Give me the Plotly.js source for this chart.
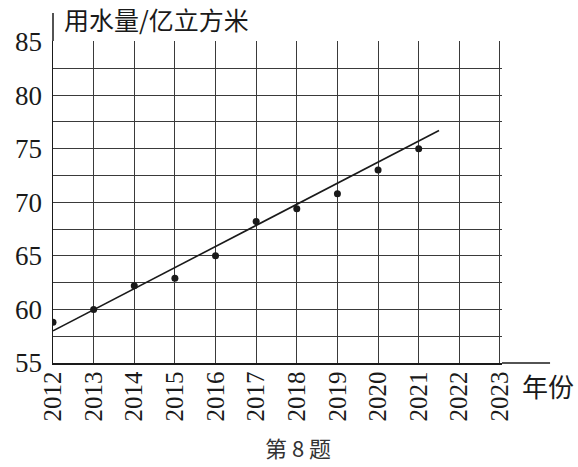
<!DOCTYPE html>
<html>
<head>
<meta charset="utf-8">
<script src="https://cdn.plot.ly/plotly-3.0.1.min.js"></script>
<style>
  html, body { margin: 0; padding: 0; background: #fff; }
  #chart { width: 578px; height: 467px; }
</style>
</head>
<body>
<div id="chart"></div>
<script>
// water use per year
const years = [2012, 2013, 2014, 2015, 2016, 2017, 2018, 2019, 2020, 2021];
const waterUse = [58.8, 60.0, 62.2, 62.9, 65.0, 68.2, 69.4, 70.8, 73.0, 75.0];

// fitted trend line, end points
const fitYears = [2012, 2021.5];
const fitValues = [58.0, 76.7];

// axis ticks
const yearTicks = [2012, 2013, 2014, 2015, 2016, 2017, 2018, 2019, 2020, 2021, 2022, 2023];
const valueTicks = [55, 60, 65, 70, 75, 80, 85];

const ink = '#1a1a1a';
const gridInk = '#3a3a3a';
const serif = 'Liberation Serif';
const cjk = 'Noto Sans CJK SC';

const traces = [
    {
        type: 'scatter',
        mode: 'lines',
        x: fitYears,
        y: fitValues,
        line: { color: ink, width: 1.6 },
        hoverinfo: 'skip',
        showlegend: false
    },
    {
        type: 'scatter',
        mode: 'markers',
        x: years,
        y: waterUse,
        marker: { color: ink, size: 7 },
        showlegend: false
    }
];

const layout = {
    width: 578,
    height: 467,
    margin: { l: 53, r: 76, t: 41, b: 104 },
    paper_bgcolor: '#ffffff',
    plot_bgcolor: '#ffffff',
    font: { family: serif, color: ink },
    showlegend: false,
    xaxis: {
        range: [2012, 2023.05],
        tickvals: yearTicks,
        ticktext: yearTicks.map(String),
        tickangle: -90,
        tickfont: { family: serif, size: 25, color: ink },
        ticks: '',
        ticklabelstandoff: -3,
        showgrid: true,
        gridcolor: gridInk,
        gridwidth: 1,
        zeroline: false,
        showline: true,
        linecolor: ink,
        linewidth: 1.5
    },
    yaxis: {
        range: [55, 85.05],
        tickvals: valueTicks,
        tickfont: { family: serif, size: 27, color: ink },
        ticks: '',
        ticklabelstandoff: 4,
        showgrid: true,
        gridcolor: gridInk,
        gridwidth: 1,
        minor: { dtick: 2.5, tick0: 55, showgrid: true, gridcolor: gridInk, gridwidth: 1 },
        zeroline: false,
        showline: true,
        linecolor: ink,
        linewidth: 1.5
    },
    shapes: [
        // y axis runs on above the top grid line
        { type: 'line', xref: 'paper', yref: 'paper', x0: 0, x1: 0, y0: 1, y1: 1.087,
          line: { color: ink, width: 1.5 } },
        // x axis runs on past 2023
        { type: 'line', xref: 'paper', yref: 'paper', x0: 1, x1: 1.107, y0: 0, y1: 0,
          line: { color: ink, width: 1.5 } }
    ],
    annotations: [
        { text: '用水量/亿立方米', xref: 'paper', yref: 'paper', x: 0.02, y: 1.068,
          xanchor: 'left', yanchor: 'middle', showarrow: false,
          font: { family: cjk, size: 25, color: ink } },
        { text: '年份', xref: 'paper', yref: 'paper', x: 1.04, y: -0.07,
          xanchor: 'left', yanchor: 'middle', showarrow: false,
          font: { family: cjk, size: 26, color: ink } },
        { text: '第 8 题', xref: 'paper', yref: 'paper', x: 0.545, y: -0.262,
          xanchor: 'center', yanchor: 'middle', showarrow: false,
          font: { family: cjk, size: 22, color: '#333333' } }
    ]
};

Plotly.newPlot('chart', traces, layout, { displayModeBar: false, staticPlot: true });
</script>
</body>
</html>
